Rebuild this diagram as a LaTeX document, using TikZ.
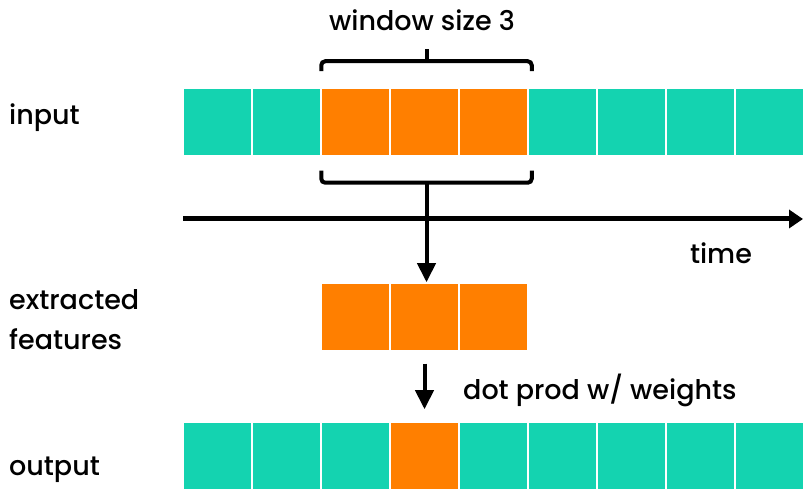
\documentclass[tikz,border=0pt]{standalone}
\usepackage{fontspec}
\setmainfont{Poppins}[UprightFont={* Medium}]
\usetikzlibrary{arrows.meta,calc}
\definecolor{seq}{HTML}{14D3B0}
\definecolor{win}{HTML}{FF7F00}

\begin{document}
\begin{tikzpicture}[x=1pt,y=1pt,
  cell/.style={draw=white,line width=1.5pt,minimum width=69pt,minimum height=68pt,inner sep=0pt},
  brace/.style={line width=4pt,rounded corners=4pt},
  flow/.style={line width=4pt,-{Triangle[length=19pt,width=18pt]}},
  axis/.style={line width=5pt,-{Triangle[length=14pt,width=18pt]}},
  lbl/.style={font=\fontsize{27}{40}\selectfont,inner sep=0pt}
]
  \clip (0,0) rectangle (803,490);
  % input sequence, window in orange
  \foreach \c [count=\i] in {seq,seq,win,win,win,seq,seq,seq,seq}
    \node[cell,fill=\c] (in\i) at ({148.5+69*\i},368) {};
  % features taken out of the window
  \foreach \i in {1,2,3}
    \node[cell,fill=win] (ex\i) at ({286.5+69*\i},173) {};
  % output sequence
  \foreach \c [count=\i] in {seq,seq,seq,win,seq,seq,seq,seq,seq}
    \node[cell,fill=\c] (out\i) at ({148.5+69*\i},34) {};

  % braces round the window
  \draw[brace] ([xshift=1pt,yshift=16pt]in3.north west) -- ++(0,10)
    -| ([xshift=3pt,yshift=16pt]in5.north east);
  \coordinate (tc) at ($(in3.north west)!0.5!(in5.north east)+(2,26)$);
  \draw[brace] (tc) -- ++(0,12);
  \draw[brace] ([xshift=1pt,yshift=-14pt]in3.south west) -- ++(0,-12)
    -| ([xshift=3pt,yshift=-14pt]in5.south east);
  \coordinate (bc) at ($(in3.south west)!0.5!(in5.south east)+(2,-26)$);
  \node[lbl] (wlbl) at (422,470) {window size 3};

  % time axis
  \coordinate (t0) at (183,271);
  \coordinate (t1) at (803,271);
  \draw[axis] (t0) -- (t1);
  \node[lbl] (time) at (721,237) {time};

  \draw[flow] (bc) -- (bc |- ex2.north);
  \draw[flow] ([yshift=-12pt]ex2.south) -- ([yshift=12pt]out4.north);
  \node[lbl,anchor=west] (dot) at (463,100) {dot prod w/ weights};

  % row labels
  \node[lbl,anchor=west] (inlbl) at (9,372) {input};
  \node[lbl,anchor=west,align=left] (exlbl) at (9,170) {extracted\\features};
  \node[lbl,anchor=west] (outlbl) at (9,20) {output};
\end{tikzpicture}
\end{document}
